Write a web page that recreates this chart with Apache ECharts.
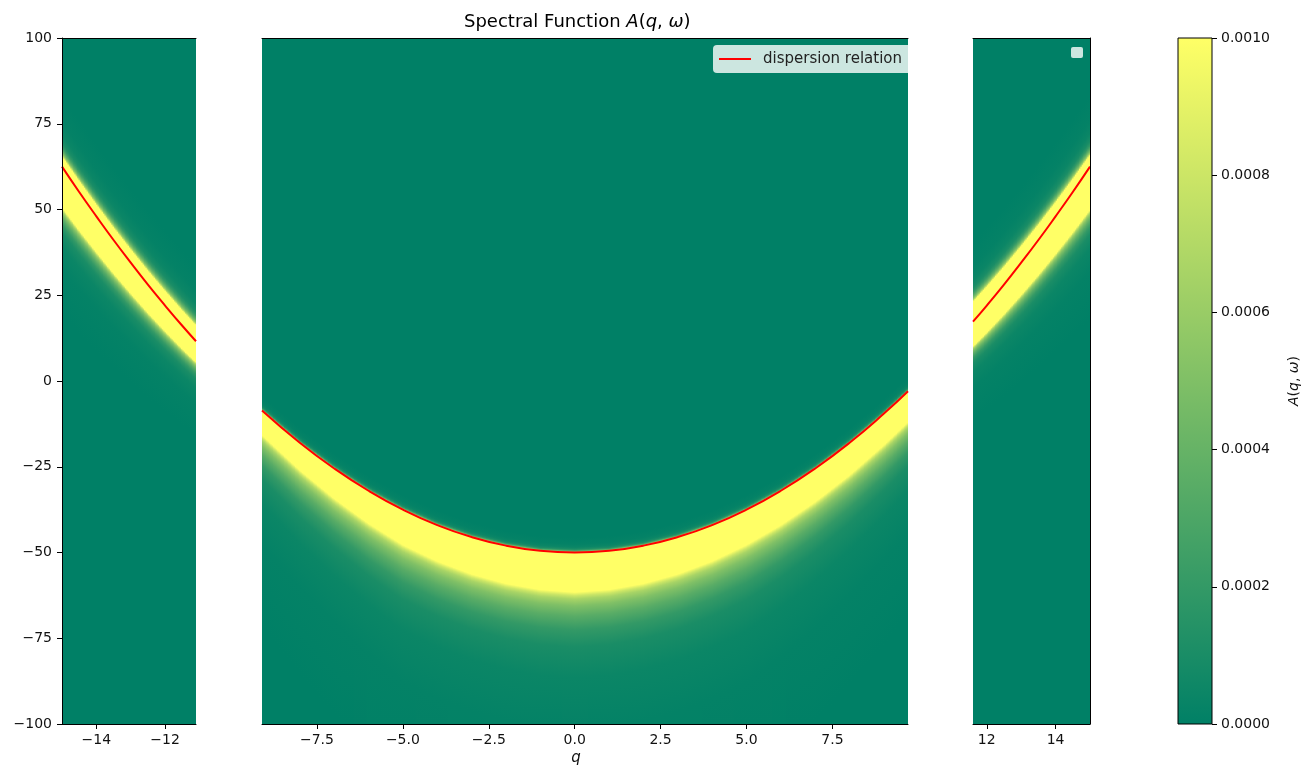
<!DOCTYPE html>
<html>
<head>
<meta charset="utf-8">
<script src="https://cdn.jsdelivr.net/npm/echarts@6/dist/echarts.min.js"></script>
<style>
html, body { margin: 0; padding: 0; background: #fff; }
#main { width: 1314px; height: 769px; }
</style>
</head>
<body>
<div id="main"></div>
<script>
// 色图 summer：0 -> 绿，1 -> 黄（vmax 处截断）
var cmapColors = ['#008066', '#ffff66'];
var vmin = 0;
var vmax = 0.001;

// 三段断轴的 q 范围和刻度
var qLeft = [-15, -11.1];
var qMid = [-9.1, 9.7];
var qRight = [11.6, 15];
var leftTicks = [-14, -12];
var midTicks = [-7.5, -5, -2.5, 0, 2.5, 5, 7.5];
var rightTicks = [12, 14];

// 色散关系（红线），从图上读的点
var dispQLeft = [-15, -14.5, -14, -13.5, -13, -12.5, -12, -11.5, -11.1];
var dispWLeft = [62.5, 55.1, 48, 41.1, 34.5, 28.1, 22, 16.1, 11.6];
var dispQMid = [-9.1, -8, -7, -6, -5, -4, -3, -2, -1, 0, 1, 2, 3, 4, 5, 6, 7, 8, 9, 9.7];
var dispWMid = [-8.6, -18, -25.5, -32, -37.5, -42, -45.5, -48, -49.5, -50, -49.5, -48, -45.5, -42, -37.5, -32, -25.5, -18, -9.5, -3];
var dispQRight = [11.6, 12, 12.5, 13, 13.5, 14, 14.5, 15];
var dispWRight = [17.3, 22, 28.1, 34.5, 41.1, 48, 55.1, 62.5];

// 饱和（黄）带相对红线的上下宽度，以及渐变衰减的尺度
var bandQ = [-15, -11.1, -9.1, -5, 0, 5, 9.7, 11.6, 15];
var bandTop = [3.0, 4.6, 0, 0, 0, 0, 0, 5.8, 3.4];
var bandBottom = [12.0, 6.2, 7.2, 10.3, 11.6, 10.3, 9.0, 7.3, 12.6];
var fadeUp = [0.25, 0.25, 0.06, 0.06, 0.06, 0.06, 0.06, 0.25, 0.25];
var fadeDown = [0.45, 0.3, 0.8, 1, 1, 1, 0.8, 0.3, 0.45];

// 带边缘外的衰减曲线（距离 -> 占 vmax 的比例）
var fadeDist = [0, 1, 2, 4, 7, 11, 16, 25, 40, 70];
var fadeFrac = [1, 0.8, 0.66, 0.5, 0.35, 0.2, 0.1, 0.045, 0.015, 0];

var font = 'DejaVu Sans';
var minus = function (v, d) {
    var s = d ? Math.abs(v).toFixed(d) : String(Math.abs(v));
    return (v < 0 ? '\u2212' : '') + s;
};

function interp(x, xs, ys) {
    if (x <= xs[0]) return ys[0];
    for (var i = 1; i < xs.length; i++) {
        if (x <= xs[i]) {
            var t = (x - xs[i - 1]) / (xs[i] - xs[i - 1]);
            return ys[i - 1] + t * (ys[i] - ys[i - 1]);
        }
    }
    return ys[ys.length - 1];
}

function hexRgb(h) {
    return [parseInt(h.substr(1, 2), 16), parseInt(h.substr(3, 2), 16), parseInt(h.substr(5, 2), 16)];
}
var c0 = hexRgb(cmapColors[0]);
var c1 = hexRgb(cmapColors[1]);
function cmap(f) {
    f = Math.max(0, Math.min(1, f));
    return 'rgb(' + [0, 1, 2].map(function (k) {
        return Math.round(c0[k] + f * (c1[k] - c0[k]));
    }).join(',') + ')';
}

// 每一列的竖直渐变（值 -> 颜色）
function columnStops(q, dq, dw) {
    var L = interp(q, dq, dw);
    var top = interp(q, bandQ, bandTop);
    var bot = interp(q, bandQ, bandBottom);
    var su = interp(q, bandQ, fadeUp);
    var sd = interp(q, bandQ, fadeDown);
    var knots = [];
    var i;
    for (i = fadeDist.length - 1; i >= 0; i--) knots.push([L + top + fadeDist[i] * su, fadeFrac[i]]);
    for (i = 0; i < fadeDist.length; i++) knots.push([L - bot - fadeDist[i] * sd, fadeFrac[i]]);
    function fAt(w) {
        if (w >= knots[0][0]) return knots[0][1];
        for (var j = 1; j < knots.length; j++) {
            if (w >= knots[j][0]) {
                var span = knots[j - 1][0] - knots[j][0];
                var t = span > 0 ? (knots[j - 1][0] - w) / span : 0;
                return knots[j - 1][1] + t * (knots[j][1] - knots[j - 1][1]);
            }
        }
        return knots[knots.length - 1][1];
    }
    var pts = [[100, fAt(100)]];
    knots.forEach(function (k) {
        if (k[0] < 100 && k[0] > -100) pts.push(k);
    });
    pts.push([-100, fAt(-100)]);
    return pts.map(function (p) {
        return { offset: (100 - p[0]) / 200, color: cmap(p[1]) };
    });
}

// 热图列：按 q 方向切成细列
var colStep = 0.04;
function makeCols(range) {
    var n = Math.round((range[1] - range[0]) / colStep);
    var w = (range[1] - range[0]) / n;
    var out = [];
    for (var i = 0; i < n; i++) out.push([range[0] + (i + 0.5) * w, w]);
    return out;
}

function heatSeries(idx, range, dq, dw) {
    return {
        type: 'custom',
        xAxisIndex: idx,
        yAxisIndex: idx,
        clip: true,
        z: 1,
        silent: true,
        data: makeCols(range),
        renderItem: function (params, api) {
            var q = api.value(0);
            var half = api.value(1) / 2;
            var p0 = api.coord([q - half, 100]);
            var p1 = api.coord([q + half, -100]);
            return {
                type: 'rect',
                shape: { x: p0[0], y: p0[1], width: p1[0] - p0[0] + 2, height: p1[1] - p0[1] },
                style: { fill: new echarts.graphic.LinearGradient(0, 0, 0, 1, columnStops(q, dq, dw)) }
            };
        }
    };
}

function lineSeries(idx, dq, dw) {
    return {
        type: 'line',
        name: 'dispersion relation',
        xAxisIndex: idx,
        yAxisIndex: idx,
        data: dq.map(function (q, i) { return [q, dw[i]]; }),
        symbol: 'none',
        smooth: true,
        clip: true,
        z: 3,
        lineStyle: { color: '#ff0000', width: 2 }
    };
}

var tickStyle = { color: '#000', width: 1 };
function bottomAxis(idx, range, ticks, dec) {
    return {
        type: 'value', gridIndex: idx, position: 'bottom', min: range[0], max: range[1], z: 10,
        splitLine: { show: false },
        axisLine: { show: true, onZero: false, lineStyle: tickStyle },
        axisTick: { show: true, length: 5, lineStyle: tickStyle, customValues: ticks },
        axisLabel: {
            show: true, customValues: ticks, margin: 9, color: '#111', fontSize: 14, fontFamily: font,
            formatter: function (v) { return minus(v, dec); }
        }
    };
}
function topAxis(idx, range) {
    return {
        type: 'value', gridIndex: idx, position: 'top', min: range[0], max: range[1], z: 10,
        splitLine: { show: false }, axisTick: { show: false }, axisLabel: { show: false },
        axisLine: { show: true, onZero: false, lineStyle: tickStyle }
    };
}

var gridBase = { top: 38, height: 686, outerBoundsMode: 'none', containLabel: false };

var chart = echarts.init(document.getElementById('main'));
var option = {
    animation: false,
    backgroundColor: '#fff',
    title: {
        text: '{n|Spectral Function }{m|A}{n|(}{m|q}{n|, }{m|ω}{n|)}',
        left: 459,
        top: 8,
        textStyle: {
            rich: {
                n: { fontSize: 18, fontFamily: font, fontWeight: 'normal', color: '#000' },
                m: { fontSize: 18, fontFamily: font, fontWeight: 'normal', fontStyle: 'italic', color: '#000' }
            }
        }
    },
    grid: [
        Object.assign({ left: 62, width: 134 }, gridBase),
        Object.assign({ left: 262, width: 646 }, gridBase),
        Object.assign({ left: 973, width: 117 }, gridBase),
        Object.assign({ left: 1178, width: 34 }, gridBase)
    ],
    xAxis: [
        bottomAxis(0, qLeft, leftTicks, 0),
        bottomAxis(1, qMid, midTicks, 1),
        bottomAxis(2, qRight, rightTicks, 0),
        topAxis(0, qLeft),
        topAxis(1, qMid),
        topAxis(2, qRight),
        {
            type: 'value', gridIndex: 3, min: 0, max: 1, show: false,
            axisLine: { show: false }, axisTick: { show: false }, axisLabel: { show: false }, splitLine: { show: false }
        }
    ],
    yAxis: [
        {
            type: 'value', gridIndex: 0, position: 'left', min: -100, max: 100, interval: 25, z: 10,
            splitLine: { show: false },
            axisLine: { show: true, onZero: false, lineStyle: tickStyle },
            axisTick: { show: true, length: 5, lineStyle: tickStyle },
            axisLabel: {
                margin: 10, color: '#111', fontSize: 14, fontFamily: font,
                formatter: function (v) { return minus(v, 0); }
            }
        },
        { type: 'value', gridIndex: 1, min: -100, max: 100, show: false },
        {
            type: 'value', gridIndex: 2, position: 'right', min: -100, max: 100, z: 10,
            splitLine: { show: false }, axisTick: { show: false }, axisLabel: { show: false },
            axisLine: { show: true, onZero: false, lineStyle: tickStyle }
        },
        {
            type: 'value', gridIndex: 3, position: 'right', min: vmin, max: vmax, interval: 0.0002, z: 10,
            splitLine: { show: false },
            axisLine: { show: false, onZero: false },
            axisTick: { show: true, inside: false, length: 5, lineStyle: tickStyle },
            axisLabel: {
                margin: 9, color: '#111', fontSize: 14, fontFamily: font,
                formatter: function (v) { return v.toFixed(4); }
            },
            name: '{i|A}({i|q}, {i|ω})',
            nameLocation: 'middle',
            nameRotate: 90,
            nameGap: 75,
            nameTextStyle: {
                fontSize: 14, fontFamily: font, color: '#111',
                rich: { i: { fontSize: 14, fontFamily: font, fontStyle: 'italic', color: '#111' } }
            }
        }
    ],
    series: [
        heatSeries(0, qLeft, dispQLeft, dispWLeft),
        heatSeries(1, qMid, dispQMid, dispWMid),
        heatSeries(2, qRight, dispQRight, dispWRight),
        lineSeries(0, dispQLeft, dispWLeft),
        lineSeries(1, dispQMid, dispWMid),
        lineSeries(2, dispQRight, dispWRight),
        {
            // 色标
            type: 'custom',
            xAxisIndex: 6,
            yAxisIndex: 3,
            silent: true,
            data: [[0, vmax]],
            renderItem: function (params, api) {
                var p0 = api.coord([0, vmax]);
                var p1 = api.coord([1, vmin]);
                return {
                    type: 'rect',
                    shape: { x: p0[0], y: p0[1], width: p1[0] - p0[0], height: p1[1] - p0[1] },
                    style: {
                        fill: new echarts.graphic.LinearGradient(0, 1, 0, 0, [
                            { offset: 0, color: cmapColors[0] },
                            { offset: 1, color: cmapColors[1] }
                        ]),
                        stroke: '#000',
                        lineWidth: 1
                    }
                };
            }
        }
    ],
    graphic: [
        // 中间子图的图例（右侧被子图边界截断）
        { type: 'rect', z: 100, shape: { x: 713, y: 45, width: 195, height: 28, r: [4, 0, 0, 4] }, style: { fill: 'rgba(255,255,255,0.8)' } },
        { type: 'line', z: 101, shape: { x1: 719, y1: 59, x2: 751, y2: 59 }, style: { stroke: '#ff0000', lineWidth: 2 } },
        { type: 'text', z: 101, x: 763, y: 59, style: { text: 'dispersion relation', fontSize: 15, fontFamily: font, fill: '#222', verticalAlign: 'middle' } },
        // 右侧子图空图例
        { type: 'rect', z: 100, shape: { x: 1071, y: 47, width: 12, height: 11, r: 2 }, style: { fill: 'rgba(255,255,255,0.8)' } },
        // x 轴标题
        { type: 'text', z: 100, x: 576, y: 758, style: { text: 'q', fontSize: 15, fontFamily: font, fontStyle: 'italic', fill: '#111', align: 'center', verticalAlign: 'middle' } }
    ]
};
chart.setOption(option);
</script>
</body>
</html>
